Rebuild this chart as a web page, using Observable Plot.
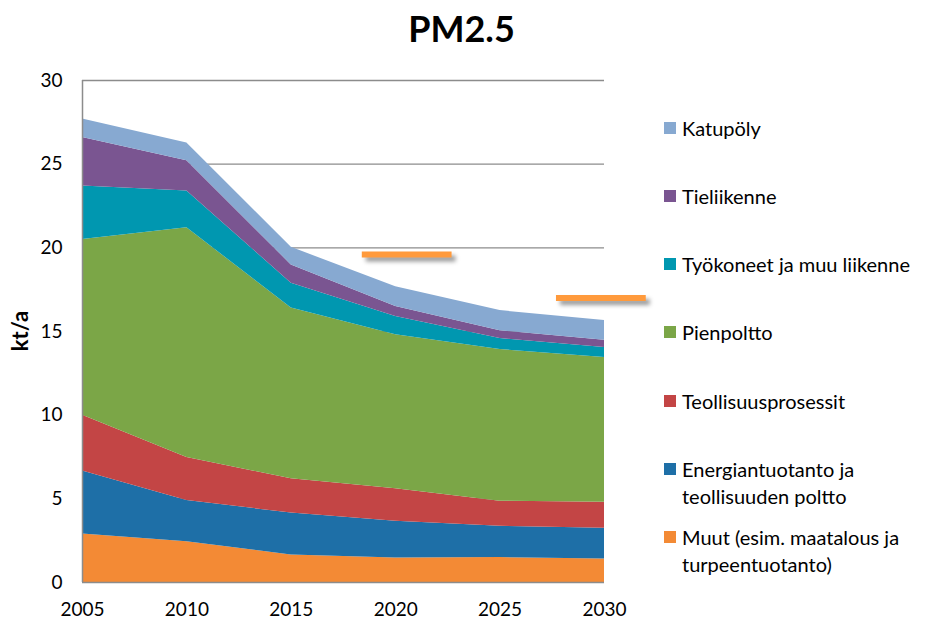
<!DOCTYPE html>
<html><head><meta charset="utf-8">
<script src="https://cdn.jsdelivr.net/npm/d3@7"></script>
<script src="https://cdn.jsdelivr.net/npm/@observablehq/plot@0.6"></script>
<style>
body{margin:0;background:#fff;font-family:Lato,sans-serif;}
#wrap{position:relative;width:928px;height:622px;overflow:hidden;}
#wrap svg{position:absolute;left:0;top:0;}
#title{position:absolute;left:0;width:923px;top:8px;text-align:center;font-weight:700;font-size:36px;line-height:40px;color:#000;}
#ylab{position:absolute;left:19px;top:331px;transform:translate(-50%,-50%) rotate(-90deg);font-weight:700;font-size:22px;white-space:nowrap;}
.leg{position:absolute;left:664px;font-size:20px;line-height:27px;color:#000;white-space:pre-line;padding-left:18px;}
.sw{position:absolute;left:0;top:7px;width:12px;height:12px;}
</style>
</head><body>
<div id="wrap">
  <div id="title">PM2.5</div>
  <div id="ylab">kt/a</div>
</div>
<script>
const years = [2005, 2010, 2015, 2020, 2025, 2030];
const muut        = [2.9, 2.43, 1.65, 1.47, 1.49, 1.41];
const energia     = [3.77, 2.47, 2.5, 2.19, 1.87, 1.83];
const teollisuus  = [3.33, 2.57, 2.05, 1.94, 1.5, 1.56];
const pienpoltto  = [10.5, 13.73, 10.2, 9.2, 9.06, 8.64];
const tyokoneet   = [3.2, 2.2, 1.48, 1.09, 0.66, 0.6];
const tieliikenne = [2.9, 1.8, 1.1, 0.6, 0.46, 0.43];
const katupoly    = [1.1, 1.07, 1.05, 1.19, 1.21, 1.18];

// bottom to top
const sectors = [
  "Muut (esim. maatalous ja\nturpeentuotanto)",
  "Energiantuotanto ja\nteollisuuden poltto",
  "Teollisuusprosessit",
  "Pienpoltto",
  "Työkoneet ja muu liikenne",
  "Tieliikenne",
  "Katupöly"
];
const seriesValues = [muut, energia, teollisuus, pienpoltto, tyokoneet, tieliikenne, katupoly];
const colors = ["#F38A35", "#1E6FA7", "#C34545", "#7BA647", "#0097B0", "#7A5591", "#87A9D1"];

const yTicks = [0, 5, 10, 15, 20, 25, 30];
const gridValues = [5, 10, 15, 20, 25, 30];

// target levels (kt/a) and the year span of each marker
const targetValues = [19.6, 17.0];
const targetStart = [2018.4, 2027.7];
const targetEnd = [2022.7, 2032.0];

const data = [];
sectors.forEach((s, i) => years.forEach((y, j) => data.push({year: y, sector: s, value: seriesValues[i][j]})));
const targets = targetValues.map((v, i) => ({value: v, x1: targetStart[i], x2: targetEnd[i]}));

const chart = Plot.plot({
  width: 928, height: 622,
  marginLeft: 82, marginRight: 324, marginTop: 80, marginBottom: 40,
  style: {fontFamily: "Lato, sans-serif", fontSize: "19px", color: "#000", background: "transparent"},
  x: {domain: [2005, 2030], ticks: years, tickFormat: d => String(d), tickSize: 0, tickPadding: 20, label: null},
  y: {domain: [0, 30], ticks: yTicks, tickSize: 0, tickPadding: 20, label: null},
  color: {domain: sectors, range: colors},
  marks: [
    Plot.ruleY(gridValues, {stroke: "#8c8c8c", strokeWidth: 1.3}),
    Plot.areaY(data, {x: "year", y: "value", fill: "sector"}),
    Plot.ruleX([2005], {stroke: "#8c8c8c", strokeWidth: 1.5}),
    Plot.ruleY([0], {stroke: "#8c8c8c", strokeWidth: 1.5}),
    Plot.ruleY(targets, {y: "value", x1: "x1", x2: "x2", stroke: "#000", strokeOpacity: 0.4, strokeWidth: 6, dx: 4, dy: 4}),
    Plot.ruleY(targets, {y: "value", x1: "x1", x2: "x2", stroke: "#FF9A3C", strokeWidth: 6})
  ]
});
const svg = chart;
d3.select(svg).append("defs").html('<filter id="sh" filterUnits="userSpaceOnUse" x="0" y="0" width="928" height="622"><feGaussianBlur stdDeviation="2.2"/></filter>');
const rules = d3.select(svg).selectAll('g[aria-label="rule"]').nodes();
if (rules.length >= 5) d3.select(rules[3]).attr("filter", "url(#sh)");
const wrap = document.getElementById("wrap");
wrap.insertBefore(svg, wrap.firstChild);

// legend (top to bottom = reverse stacking order)
const legOrder = sectors.map((s, i) => i).reverse();
legOrder.forEach((idx, k) => {
  const d = document.createElement("div");
  d.className = "leg";
  d.style.top = (128 + k * 68.3 - 13.5) + "px";
  const sw = document.createElement("span");
  sw.className = "sw";
  sw.style.background = colors[idx];
  d.appendChild(sw);
  d.appendChild(document.createTextNode(sectors[idx]));
  wrap.appendChild(d);
});
</script>
</body></html>
